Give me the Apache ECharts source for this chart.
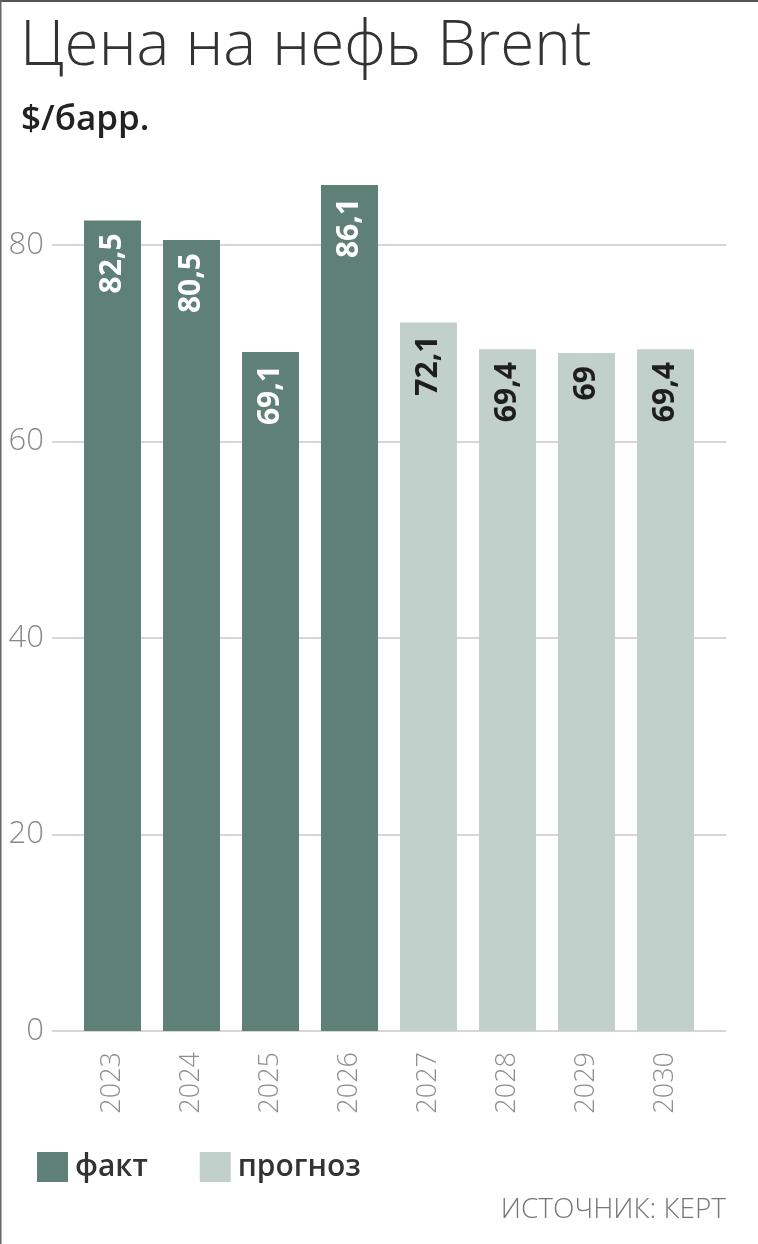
<!DOCTYPE html>
<html>
<head>
<meta charset="utf-8">
<title>Цена на нефь Brent</title>
<script src="https://cdn.jsdelivr.net/npm/echarts@6/dist/echarts.min.js"></script>
<style>
  html, body { margin: 0; padding: 0; background: #fff; }
  #chart { width: 758px; height: 1244px; }
</style>
</head>
<body>
<div id="chart"></div>
<script>
// данные
var years = ['2023', '2024', '2025', '2026', '2027', '2028', '2029', '2030'];
var factValues = [82.5, 80.5, 69.1, 86.1, '-', '-', '-', '-'];
var forecastValues = ['-', '-', '-', '-', 72.1, 69.4, 69, 69.4];
var yTicks = [0, 20, 40, 60, 80];

var darkColor = '#5f8077';
var lightColor = '#c2d0cb';
var font = '"Open Sans", "DejaVu Sans", sans-serif';

function comma(p) {
    return String(p.value).replace('.', ',');
}

function barLabel(color) {
    return {
        show: true,
        position: 'insideTop',
        distance: 13,
        rotate: 90,
        align: 'right',
        verticalAlign: 'middle',
        color: color,
        fontFamily: font,
        fontWeight: 700,
        fontSize: 30,
        formatter: comma
    };
}

var chart = echarts.init(document.getElementById('chart'), null, { renderer: 'canvas' });

var option = {
    backgroundColor: '#fff',
    animation: false,
    title: [{
        text: 'Цена на нефь Brent',
        left: 15,
        top: 11,
        textStyle: { fontFamily: font, fontWeight: 300, fontSize: 62, color: '#333' }
    }, {
        text: '$/барр.',
        left: 16,
        top: 98,
        textStyle: { fontFamily: font, fontWeight: 600, fontSize: 35, color: '#222' }
    }],
    legend: {
        left: 32,
        top: 1147,
        icon: 'rect',
        itemWidth: 31,
        itemHeight: 30,
        itemGap: 52,
        textStyle: { fontFamily: font, fontWeight: 600, fontSize: 30, color: '#333', padding: [0, 0, 0, 2] },
        data: ['факт', 'прогноз']
    },
    grid: [
        { left: 52, right: 32, top: 245, bottom: 213 },
        { left: 73, right: 53, top: 245, bottom: 213 }
    ],
    xAxis: [{
        gridIndex: 0,
        type: 'category',
        data: years,
        show: false
    }, {
        gridIndex: 1,
        type: 'category',
        data: years,
        axisLine: { show: false },
        axisTick: { show: false },
        axisLabel: {
            rotate: 90,
            margin: 21,
            fontFamily: font,
            fontWeight: 300,
            fontSize: 27,
            color: '#8e8e8e'
        }
    }],
    yAxis: [{
        gridIndex: 0,
        type: 'value',
        min: yTicks[0],
        max: yTicks[yTicks.length - 1],
        interval: 20,
        axisLine: { show: false },
        axisTick: { show: false },
        axisLabel: {
            margin: 8,
            fontFamily: font,
            fontWeight: 300,
            fontSize: 31,
            color: '#8a8a8a'
        },
        splitLine: { lineStyle: { color: '#c9c9c9', width: 1.5 } }
    }, {
        gridIndex: 1,
        type: 'value',
        min: yTicks[0],
        max: yTicks[yTicks.length - 1],
        interval: 20,
        show: false,
        splitLine: { show: false }
    }],
    series: [{
        name: 'факт',
        type: 'bar',
        xAxisIndex: 1,
        yAxisIndex: 1,
        barWidth: 57,
        barGap: '-100%',
        clip: false,
        itemStyle: { color: darkColor },
        label: barLabel('#fff'),
        data: factValues
    }, {
        name: 'прогноз',
        type: 'bar',
        xAxisIndex: 1,
        yAxisIndex: 1,
        barWidth: 57,
        barGap: '-100%',
        clip: false,
        itemStyle: { color: lightColor },
        label: barLabel('#1e1e1e'),
        data: forecastValues
    }],
    graphic: [{
        type: 'rect',
        left: 0, top: 0,
        shape: { width: 758, height: 2 },
        style: { fill: '#555' }
    }, {
        type: 'rect',
        left: 0, top: 0,
        shape: { width: 1.5, height: 1244 },
        style: { fill: '#666' }
    }, {
        type: 'text',
        right: 32,
        top: 1196,
        style: {
            text: 'ИСТОЧНИК: КЕРТ',
            fontFamily: font,
            fontWeight: 300,
            fontSize: 28,
            fill: '#777'
        }
    }]
};

chart.setOption(option);
</script>
</body>
</html>
